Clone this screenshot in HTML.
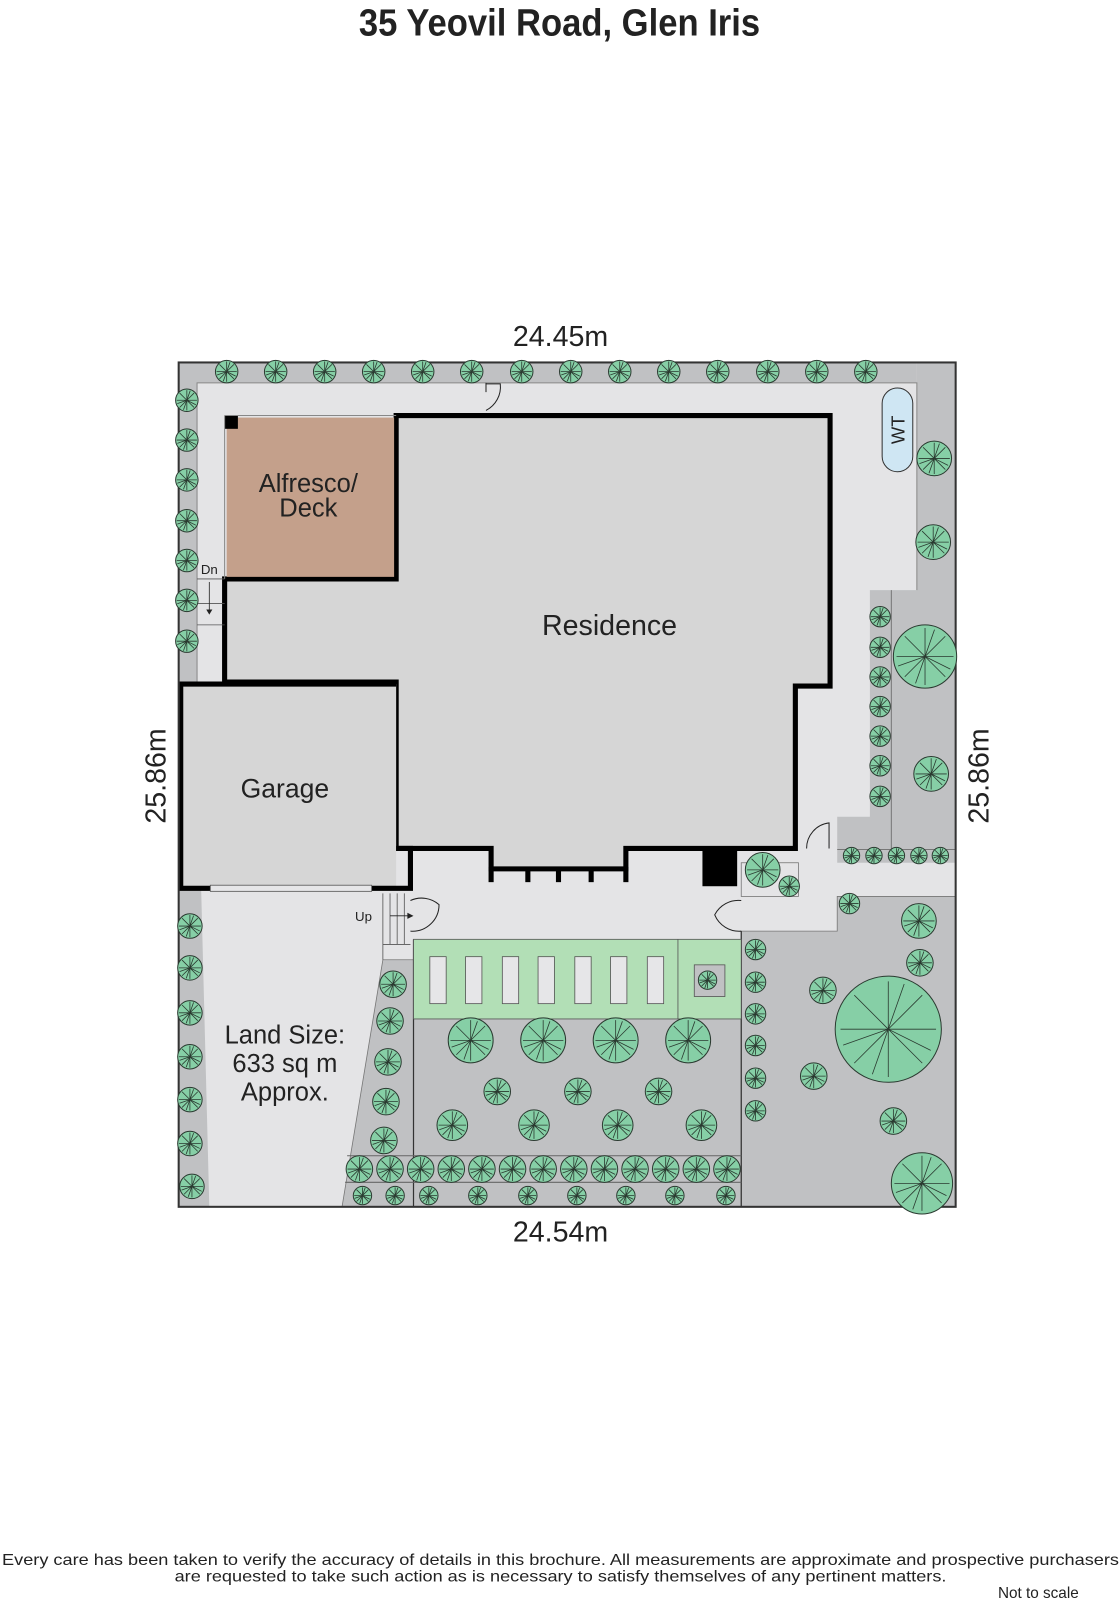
<!DOCTYPE html>
<html><head><meta charset="utf-8"><style>
html,body{margin:0;padding:0;background:#fff;}
svg{display:block;}
text{font-family:"Liberation Sans",sans-serif;fill:#222;}
</style></head><body>
<svg width="1119" height="1600" viewBox="0 0 1119 1600" xmlns="http://www.w3.org/2000/svg">
<defs>
<g id="t">
<circle r="10" fill="#86cfa6" stroke="#2a3a30" stroke-width="1" vector-effect="non-scaling-stroke"/>
<path d="M0 0L0 -9M0 0L6.4 -6.4M0 0L9 0M0 0L6.4 6.4M0 0L0 9M0 0L-6.4 6.4M0 0L-9 0M0 0L-6.4 -6.4M0 0L3 -8.5M0 0L-8.5 3M0 0L8 4M0 0L-3 8.5" stroke="#2a3a30" stroke-width="0.8" vector-effect="non-scaling-stroke"/>
</g>
</defs>
<g transform="scale(1.021)">
<text x="548" y="35" font-size="37" font-weight="bold" text-anchor="middle" textLength="393" lengthAdjust="spacingAndGlyphs">35 Yeovil Road, Glen Iris</text>

<rect x="175" y="355" width="761" height="827" fill="#e4e4e6"/>
<rect x="175" y="355" width="723" height="20" fill="#c0c1c3"/>
<rect x="175" y="355" width="18" height="313" fill="#c0c1c3"/>
<polygon points="898,355 936,355 936,845 820,845 820,800 852,800 852,578 898,578" fill="#c0c1c3"/>
<line x1="873" y1="578" x2="873" y2="832" stroke="#777" stroke-width="1"/>
<line x1="820" y1="832" x2="936" y2="832" stroke="#777" stroke-width="1"/>
<polyline points="193,668 193,375 898,375 898,578" fill="none" stroke="#888" stroke-width="1"/>
<polygon points="175,870 197,870 205,1182 175,1182" fill="#c0c1c3"/>
<polygon points="375,940 405,940 405,1182 335,1182" fill="#c0c1c3" stroke="#777" stroke-width="0.8"/>
<rect x="405" y="998" width="321" height="184" fill="#c0c1c3"/>
<polygon points="726,912 820,912 820,878 936,878 936,1182 726,1182" fill="#c0c1c3" stroke="#777" stroke-width="0.8"/>
<line x1="405" y1="920" x2="405" y2="1182" stroke="#333" stroke-width="1.2"/>
<line x1="726" y1="912" x2="726" y2="1182" stroke="#333" stroke-width="1.2"/>
<line x1="340" y1="1132" x2="726" y2="1132" stroke="#666" stroke-width="1"/>
<line x1="338" y1="1158" x2="726" y2="1158" stroke="#666" stroke-width="1"/>
<rect x="726" y="845" width="56" height="33" fill="#e4e4e6" stroke="#777" stroke-width="0.8"/>
<rect x="405" y="920" width="321" height="78" fill="#b2dfb6" stroke="#555" stroke-width="0.8"/>
<line x1="664" y1="920" x2="664" y2="998" stroke="#555" stroke-width="0.8"/>
<g fill="#e6e6e8" stroke="#555" stroke-width="0.8">
<rect x="421" y="937" width="16" height="46"/><rect x="456" y="937" width="16" height="46"/><rect x="492" y="937" width="16" height="46"/><rect x="527" y="937" width="16" height="46"/><rect x="563" y="937" width="16" height="46"/><rect x="598" y="937" width="16" height="46"/><rect x="634" y="937" width="16" height="46"/>
</g>
<rect x="680" y="945" width="30" height="31" fill="#c0c1c3" stroke="#555" stroke-width="0.8"/>

<rect x="864" y="380" width="30" height="82" rx="15" fill="#cfe6f3" stroke="#333" stroke-width="1"/>
<text x="0" y="0" font-size="18" text-anchor="middle" transform="translate(886,421) rotate(-90)">WT</text>

<polygon points="388,407 813,407 813,672 779,672 779,831 613,831 613,851 481,851 481,831 388,831 388,668 220,668 220,567 388,567" fill="#d6d6d6" stroke="#000" stroke-width="5" stroke-linejoin="miter"/>
<rect x="222" y="409" width="164" height="156" fill="#c4a08b"/>
<rect x="220" y="407" width="13" height="13" fill="#000"/>
<line x1="220" y1="407" x2="220" y2="567" stroke="#888" stroke-width="1"/>
<line x1="220" y1="407" x2="388" y2="407" stroke="#888" stroke-width="1"/>
<g stroke="#000" stroke-width="5">
<line x1="481" y1="849" x2="481" y2="864"/><line x1="517" y1="849" x2="517" y2="864"/><line x1="547" y1="849" x2="547" y2="864"/><line x1="579" y1="849" x2="579" y2="864"/><line x1="613" y1="849" x2="613" y2="864"/>
</g>
<rect x="688" y="831" width="34" height="37" fill="#000"/>
<rect x="177" y="670" width="211" height="200" fill="#d6d6d6"/>
<polyline points="388,831 402,831 402,870 177,870 177,670 388,670" fill="none" stroke="#000" stroke-width="5"/>
<rect x="206" y="867" width="158" height="6" fill="#e6e6e8" stroke="#555" stroke-width="0.8"/>

<rect x="175" y="355" width="761" height="827" fill="none" stroke="#333" stroke-width="2"/>

<path d="M476 375 L476 384 M476 376 L490 376 A26 26 0 0 1 476 402" fill="none" stroke="#222" stroke-width="1"/>
<path d="M402 882 A26 26 0 0 1 430 886 A26 26 0 0 1 402 912" fill="none" stroke="#222" stroke-width="1"/>
<path d="M726 882 A26 26 0 0 0 700 896 A26 26 0 0 0 726 912" fill="none" stroke="#222" stroke-width="1"/>
<path d="M790 831 A25 25 0 0 1 812 806 L812 831" fill="none" stroke="#222" stroke-width="1"/>
<g stroke="#555" stroke-width="0.8" fill="none">
<line x1="193" y1="567" x2="220" y2="567"/><line x1="193" y1="591" x2="220" y2="591"/><line x1="193" y1="612" x2="220" y2="612"/>
<line x1="205" y1="570" x2="205" y2="598" stroke="#222"/>
<line x1="375" y1="875" x2="375" y2="940"/><line x1="382" y1="875" x2="382" y2="925"/><line x1="389" y1="875" x2="389" y2="925"/><line x1="396" y1="875" x2="396" y2="925"/>
<line x1="375" y1="925" x2="402" y2="925"/>
<line x1="382" y1="897" x2="400" y2="897" stroke="#222"/>
</g>
<polygon points="202,597 208,597 205,602" fill="#222"/>
<polygon points="399,894 405,897 399,900" fill="#222"/>
<text x="205" y="562" font-size="13" text-anchor="middle">Dn</text>
<text x="356" y="902" font-size="13" text-anchor="middle">Up</text>

<text x="549" y="339" font-size="28" text-anchor="middle">24.45m</text>
<text x="549" y="1216" font-size="28" text-anchor="middle">24.54m</text>
<text font-size="28" text-anchor="middle" transform="translate(162,760) rotate(-90)">25.86m</text>
<text font-size="28" text-anchor="middle" transform="translate(968,760) rotate(-90)">25.86m</text>
<text x="597" y="622" font-size="28" text-anchor="middle">Residence</text>
<text x="279" y="781" font-size="26" text-anchor="middle">Garage</text>
<text x="302" y="482" font-size="25" text-anchor="middle">Alfresco/</text>
<text x="302" y="506" font-size="25" text-anchor="middle">Deck</text>
<text x="279" y="1022" font-size="25" text-anchor="middle">Land Size:</text>
<text x="279" y="1050" font-size="25" text-anchor="middle">633 sq m</text>
<text x="279" y="1078" font-size="25" text-anchor="middle">Approx.</text>

<g>
<use href="#t" transform="translate(222,364) scale(1.1)"/><use href="#t" transform="translate(270,364) scale(1.1)"/><use href="#t" transform="translate(318,364) scale(1.1)"/><use href="#t" transform="translate(366,364) scale(1.1)"/><use href="#t" transform="translate(414,364) scale(1.1)"/><use href="#t" transform="translate(462,364) scale(1.1)"/><use href="#t" transform="translate(511,364) scale(1.1)"/><use href="#t" transform="translate(559,364) scale(1.1)"/><use href="#t" transform="translate(607,364) scale(1.1)"/><use href="#t" transform="translate(655,364) scale(1.1)"/><use href="#t" transform="translate(703,364) scale(1.1)"/><use href="#t" transform="translate(752,364) scale(1.1)"/><use href="#t" transform="translate(800,364) scale(1.1)"/><use href="#t" transform="translate(848,364) scale(1.1)"/>
<use href="#t" transform="translate(183,392) scale(1.1)"/><use href="#t" transform="translate(183,431) scale(1.1)"/><use href="#t" transform="translate(183,470) scale(1.1)"/><use href="#t" transform="translate(183,510) scale(1.1)"/><use href="#t" transform="translate(183,549) scale(1.1)"/><use href="#t" transform="translate(183,588) scale(1.1)"/><use href="#t" transform="translate(183,628) scale(1.1)"/>
<use href="#t" transform="translate(186,907) scale(1.2)"/><use href="#t" transform="translate(186,948) scale(1.2)"/><use href="#t" transform="translate(186,992) scale(1.2)"/><use href="#t" transform="translate(186,1035) scale(1.2)"/><use href="#t" transform="translate(186,1077) scale(1.2)"/><use href="#t" transform="translate(186,1120) scale(1.2)"/><use href="#t" transform="translate(188,1162) scale(1.2)"/>
<use href="#t" transform="translate(915,449) scale(1.7)"/><use href="#t" transform="translate(914,531) scale(1.7)"/><use href="#t" transform="translate(906,643) scale(3.1)"/><use href="#t" transform="translate(912,758) scale(1.7)"/>
<use href="#t" transform="translate(862,604)"/><use href="#t" transform="translate(862,634)"/><use href="#t" transform="translate(862,663)"/><use href="#t" transform="translate(862,692)"/><use href="#t" transform="translate(862,721)"/><use href="#t" transform="translate(862,750)"/><use href="#t" transform="translate(862,780)"/>
<use href="#t" transform="translate(834,838) scale(0.8)"/><use href="#t" transform="translate(856,838) scale(0.8)"/><use href="#t" transform="translate(878,838) scale(0.8)"/><use href="#t" transform="translate(900,838) scale(0.8)"/><use href="#t" transform="translate(921,838) scale(0.8)"/>
<use href="#t" transform="translate(747,852) scale(1.7)"/><use href="#t" transform="translate(773,868)"/>
<use href="#t" transform="translate(385,964) scale(1.3)"/><use href="#t" transform="translate(382,1000) scale(1.3)"/><use href="#t" transform="translate(380,1040) scale(1.3)"/><use href="#t" transform="translate(378,1079) scale(1.3)"/><use href="#t" transform="translate(376,1117) scale(1.3)"/>
<use href="#t" transform="translate(461,1019) scale(2.2)"/><use href="#t" transform="translate(532,1019) scale(2.2)"/><use href="#t" transform="translate(603,1019) scale(2.2)"/><use href="#t" transform="translate(674,1019) scale(2.2)"/>
<use href="#t" transform="translate(487,1069) scale(1.3)"/><use href="#t" transform="translate(566,1069) scale(1.3)"/><use href="#t" transform="translate(645,1069) scale(1.3)"/>
<use href="#t" transform="translate(443,1102) scale(1.5)"/><use href="#t" transform="translate(523,1102) scale(1.5)"/><use href="#t" transform="translate(605,1102) scale(1.5)"/><use href="#t" transform="translate(687,1102) scale(1.5)"/>
<use href="#t" transform="translate(352,1145) scale(1.3)"/><use href="#t" transform="translate(382,1145) scale(1.3)"/><use href="#t" transform="translate(412,1145) scale(1.3)"/><use href="#t" transform="translate(442,1145) scale(1.3)"/><use href="#t" transform="translate(472,1145) scale(1.3)"/><use href="#t" transform="translate(502,1145) scale(1.3)"/><use href="#t" transform="translate(532,1145) scale(1.3)"/><use href="#t" transform="translate(562,1145) scale(1.3)"/><use href="#t" transform="translate(592,1145) scale(1.3)"/><use href="#t" transform="translate(622,1145) scale(1.3)"/><use href="#t" transform="translate(652,1145) scale(1.3)"/><use href="#t" transform="translate(682,1145) scale(1.3)"/><use href="#t" transform="translate(712,1145) scale(1.3)"/>
<use href="#t" transform="translate(355,1171) scale(0.9)"/><use href="#t" transform="translate(387,1171) scale(0.9)"/><use href="#t" transform="translate(420,1171) scale(0.9)"/><use href="#t" transform="translate(468,1171) scale(0.9)"/><use href="#t" transform="translate(517,1171) scale(0.9)"/><use href="#t" transform="translate(565,1171) scale(0.9)"/><use href="#t" transform="translate(613,1171) scale(0.9)"/><use href="#t" transform="translate(661,1171) scale(0.9)"/><use href="#t" transform="translate(711,1171) scale(0.9)"/>
<use href="#t" transform="translate(740,930)"/><use href="#t" transform="translate(740,962)"/><use href="#t" transform="translate(740,993)"/><use href="#t" transform="translate(740,1024)"/><use href="#t" transform="translate(740,1056)"/><use href="#t" transform="translate(740,1088)"/>
<use href="#t" transform="translate(832,885)"/><use href="#t" transform="translate(900,902) scale(1.7)"/><use href="#t" transform="translate(901,943) scale(1.3)"/><use href="#t" transform="translate(806,970) scale(1.3)"/><use href="#t" transform="translate(870,1008) scale(5.2)"/><use href="#t" transform="translate(797,1054) scale(1.3)"/><use href="#t" transform="translate(875,1098) scale(1.3)"/><use href="#t" transform="translate(903,1159) scale(3)"/>
<use href="#t" transform="translate(693,960) scale(0.9)"/>
</g>

<text x="549" y="1533" font-size="15" text-anchor="middle" textLength="1094" lengthAdjust="spacingAndGlyphs">Every care has been taken to verify the accuracy of details in this brochure.  All measurements are approximate and prospective purchasers</text>
<text x="549" y="1549" font-size="15" text-anchor="middle" textLength="756" lengthAdjust="spacingAndGlyphs">are requested to take such action as is necessary to satisfy themselves of any pertinent matters.</text>
<text x="1017" y="1565" font-size="15" text-anchor="middle">Not to scale</text>
</g>
</svg>
</body></html>
